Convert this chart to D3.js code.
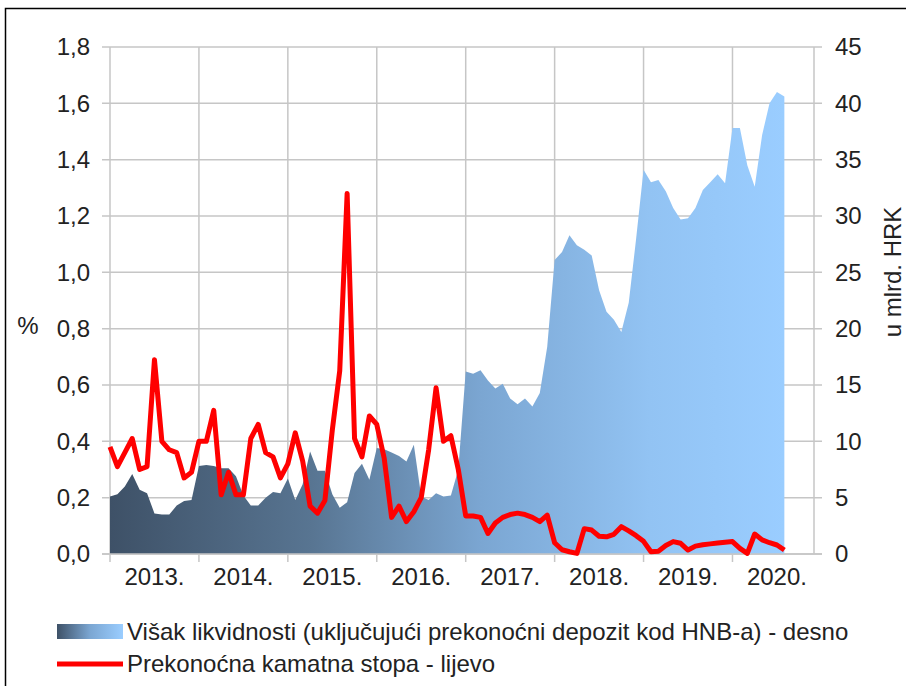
<!DOCTYPE html>
<html>
<head>
<meta charset="utf-8">
<script src="https://cdn.jsdelivr.net/npm/d3@7"></script>
<style>
	body { margin: 0; background: #fff; }
	svg { display: block; font-family: "Liberation Sans", Arial, sans-serif; }
</style>
</head>
<body>
<svg width="906" height="686"></svg>
<script>
// monthly, Jan 2013 .. Aug 2020
const months = d3.timeMonth.range(new Date(2013, 0, 1), new Date(2021, 0, 1));
const years = ["2013.", "2014.", "2015.", "2016.", "2017.", "2018.", "2019.", "2020."];
const leftTicks = [0, 0.2, 0.4, 0.6, 0.8, 1.0, 1.2, 1.4, 1.6, 1.8];
const rightTicks = [0, 5, 10, 15, 20, 25, 30, 35, 40, 45];

// višak likvidnosti, mlrd. HRK (desno)
const liquidity = [
	5.1, 5.3, 6.0, 7.1, 5.7, 5.4, 3.6, 3.5, 3.5, 4.3, 4.7, 4.8,
	7.8, 7.9, 7.8, 7.6, 7.6, 6.9, 5.2, 4.3, 4.3, 5.0, 5.5, 5.4,
	6.7, 4.8, 6.2, 9.1, 7.4, 7.4, 5.3, 4.1, 4.6, 7.2, 8.0, 6.6,
	9.4, 9.3, 9.0, 8.7, 8.2, 9.7, 5.1, 4.8, 5.4, 5.1, 5.2, 7.5,
	16.2, 16.0, 16.3, 15.4, 14.7, 15.1, 13.8, 13.3, 13.8, 13.1, 14.3, 18.4,
	26.1, 26.8, 28.3, 27.4, 27.0, 26.5, 23.4, 21.5, 20.8, 19.7, 22.3, 28.0,
	34.1, 33.0, 33.2, 32.2, 30.7, 29.7, 29.8, 30.7, 32.3, 33.0, 33.7, 32.9,
	37.8, 37.8, 34.5, 32.6, 37.2, 40.0, 41.0, 40.6
];

// prekonoćna kamatna stopa, % (lijevo)
const rate = [
	0.38, 0.31, 0.36, 0.41, 0.30, 0.31, 0.69, 0.40, 0.37, 0.36, 0.27, 0.29,
	0.40, 0.40, 0.51, 0.21, 0.29, 0.21, 0.21, 0.41, 0.46, 0.36, 0.345, 0.27,
	0.32, 0.43, 0.33, 0.17, 0.145, 0.19, 0.44, 0.65, 1.28, 0.41, 0.345, 0.49,
	0.46, 0.34, 0.13, 0.17, 0.115, 0.15, 0.20, 0.37, 0.59, 0.40, 0.42, 0.30,
	0.135, 0.135, 0.13, 0.073, 0.11, 0.13, 0.14, 0.145, 0.14, 0.13, 0.115, 0.138,
	0.04, 0.015, 0.008, 0.002, 0.09, 0.085, 0.063, 0.061, 0.07, 0.097, 0.082, 0.065,
	0.045, 0.008, 0.01, 0.03, 0.044, 0.038, 0.014, 0.028, 0.033, 0.036, 0.039, 0.042,
	0.044, 0.02, 0.002, 0.071, 0.05, 0.04, 0.032, 0.014
];

const svg = d3.select("svg");
const plotLeft = 110, plotRight = 814, plotTop = 47, plotBottom = 554;
const grid = "#c6c6c6";
const fs = 24;

const x = d3.scalePoint().domain(months).range([plotLeft, plotRight]);
const step = x.step();
const yL = d3.scaleLinear().domain([0, 1.8]).range([plotBottom, plotTop]);
const yR = d3.scaleLinear().domain([0, 45]).range([plotBottom, plotTop]);

// frame
svg.append("rect")
	.attr("x", 5.5).attr("y", 8.5)
	.attr("width", 960).attr("height", 760)
	.attr("fill", "none").attr("stroke", "#000").attr("stroke-width", 1.5);

// gradient for the area
const defs = svg.append("defs");
const grad = defs.append("linearGradient")
	.attr("id", "liq").attr("gradientUnits", "userSpaceOnUse")
	.attr("x1", plotLeft).attr("x2", x(months[liquidity.length - 1])).attr("y1", 0).attr("y2", 0);
grad.append("stop").attr("offset", "0%").attr("stop-color", "#3e5167");
grad.append("stop").attr("offset", "30%").attr("stop-color", "#587592");
grad.append("stop").attr("offset", "55%").attr("stop-color", "#7ba6d2");
grad.append("stop").attr("offset", "80%").attr("stop-color", "#92c3f3");
grad.append("stop").attr("offset", "100%").attr("stop-color", "#9acdff");

const lgrad = defs.append("linearGradient").attr("id", "lgd");
lgrad.append("stop").attr("offset", "0%").attr("stop-color", "#3e5167");
lgrad.append("stop").attr("offset", "50%").attr("stop-color", "#7ba6d2");
lgrad.append("stop").attr("offset", "100%").attr("stop-color", "#9acdff");

// horizontal grid
svg.append("g").selectAll("line")
	.data(leftTicks)
	.join("line")
	.attr("x1", plotLeft - 8).attr("x2", plotRight + 8)
	.attr("y1", (d) => yL(d)).attr("y2", (d) => yL(d))
	.attr("stroke", grid).attr("stroke-width", 1.5);

// vertical grid at january of each year
const yearStarts = months.filter((m) => m.getMonth() === 0);
svg.append("g").selectAll("line")
	.data(yearStarts)
	.join("line")
	.attr("x1", (d) => x(d)).attr("x2", (d) => x(d))
	.attr("y1", plotTop).attr("y2", plotBottom + 8)
	.attr("stroke", grid).attr("stroke-width", 1.5);

svg.append("line")
	.attr("x1", plotRight).attr("x2", plotRight).attr("y1", plotTop).attr("y2", plotBottom)
	.attr("stroke", grid).attr("stroke-width", 1.5);

// area
const liqData = liquidity.map((v, i) => ({ m: months[i], v: v }));
svg.append("path")
	.datum(liqData)
	.attr("fill", "url(#liq)")
	.attr("d", d3.area().x((d) => x(d.m)).y0(yR(0)).y1((d) => yR(d.v)));

// baseline
svg.append("line")
	.attr("x1", plotLeft - 8).attr("x2", plotRight + 8).attr("y1", plotBottom).attr("y2", plotBottom)
	.attr("stroke", grid).attr("stroke-width", 1.5);

// red line
const rateData = rate.map((v, i) => ({ m: months[i], v: v }));
svg.append("path")
	.datum(rateData)
	.attr("fill", "none")
	.attr("stroke", "#ff0000")
	.attr("stroke-width", 5)
	.attr("stroke-linejoin", "round")
	.attr("d", d3.line().x((d) => x(d.m)).y((d) => yL(d.v)));

// left axis labels
svg.append("g").selectAll("text")
	.data(leftTicks)
	.join("text")
	.attr("x", 90).attr("y", (d) => yL(d))
	.attr("dy", "0.35em")
	.attr("text-anchor", "end")
	.attr("font-size", fs)
	.attr("fill", "#222")
	.text((d) => d.toFixed(1).replace(".", ","));

// right axis labels
svg.append("g").selectAll("text")
	.data(rightTicks)
	.join("text")
	.attr("x", 835).attr("y", (d) => yR(d))
	.attr("dy", "0.35em")
	.attr("font-size", fs)
	.attr("fill", "#222")
	.text((d) => d);

// year labels
svg.append("g").selectAll("text")
	.data(years)
	.join("text")
	.attr("x", (d, i) => x(yearStarts[i]) + 6 * step)
	.attr("y", 585)
	.attr("text-anchor", "middle")
	.attr("font-size", fs)
	.attr("fill", "#222")
	.text((d) => d);

// axis titles
svg.append("text")
	.attr("x", 28).attr("y", 334)
	.attr("text-anchor", "middle")
	.attr("font-size", fs)
	.attr("fill", "#222")
	.text("%");

svg.append("text")
	.attr("transform", "translate(893,272) rotate(-90)")
	.attr("dy", "0.35em")
	.attr("text-anchor", "middle")
	.attr("font-size", fs)
	.attr("fill", "#222")
	.text("u mlrd. HRK");

// legend
const legend = svg.append("g");
legend.append("rect")
	.attr("x", 57).attr("y", 624).attr("width", 66).attr("height", 15)
	.attr("fill", "url(#lgd)");
legend.append("text")
	.attr("x", 127).attr("y", 632).attr("dy", "0.35em")
	.attr("font-size", fs).attr("fill", "#222")
	.text("Višak likvidnosti (uključujući prekonoćni depozit kod HNB-a) - desno");
legend.append("line")
	.attr("x1", 57).attr("x2", 123).attr("y1", 664).attr("y2", 664)
	.attr("stroke", "#ff0000").attr("stroke-width", 5);
legend.append("text")
	.attr("x", 127).attr("y", 664).attr("dy", "0.35em")
	.attr("font-size", fs).attr("fill", "#222")
	.text("Prekonoćna kamatna stopa - lijevo");
</script>
</body>
</html>
